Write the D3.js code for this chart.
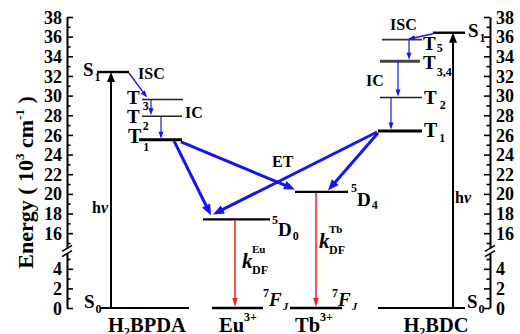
<!DOCTYPE html>
<html>
<head>
<meta charset="utf-8">
<script src="https://cdn.jsdelivr.net/npm/d3@7"></script>
<style>
  body { margin: 0; background: #fff; }
  svg text { font-family: "Liberation Serif", "Times New Roman", serif; font-weight: bold; fill: #000; }
</style>
</head>
<body>
<svg id="chart" width="520" height="334"></svg>
<script>
// Energy levels, in 10^3 cm^-1
const bpdaStates = ["S0", "S1", "T3", "T2", "T1"];
const bpdaEnergy = [0, 32.4, 29.6, 27.9, 25.5];
const bdcStates = ["S0", "S1", "T5", "T3,4", "T2", "T1"];
const bdcEnergy = [0, 36.4, 35.7, 33.5, 29.8, 26.4];
const ionNames = ["Eu3+", "Tb3+"];
const ionEmitting = [17.4, 20.2];   // Eu 5D0, Tb 5D4
const ionGround = [0, 0];           // 7FJ
const majorTicks = [0, 2, 4, 16, 18, 20, 22, 24, 26, 28, 30, 32, 34, 36, 38];
const minorTicks = [1, 3, 5, 15, 17, 19, 21, 23, 25, 27, 29, 31, 33, 35, 37];
const tickLabels = ["0", "2", "4", "16", "18", "20", "22", "24", "26", "28", "30", "32", "34", "36", "38"];

const svg = d3.select("#chart");
const BLUE = "#1414f0", RED = "#ff1a1a";

// broken energy axis: 0–5 below the break, 15–38 above it
const y = d3.scaleLinear().domain([0, 5, 15, 38]).range([308, 259, 243, 17]);
const bpda = s => y(bpdaEnergy[bpdaStates.indexOf(s)]);
const bdc = s => y(bdcEnergy[bdcStates.indexOf(s)]);

const xAxisL = 67, xAxisR = 490;

function styleAxis(g) {
  g.select(".domain").attr("stroke-width", 2);
  g.selectAll(".tick line").attr("stroke-width", 1.6);
  g.selectAll(".tick text")
    .attr("font-family", "Liberation Serif, serif")
    .attr("font-weight", "bold")
    .attr("font-size", 18)
    .attr("dy", "0.34em");
}
const labelFmt = d => tickLabels[majorTicks.indexOf(d)];

// left axis
svg.append("g").attr("transform", `translate(${xAxisL},0)`)
  .call(d3.axisLeft(y).tickValues(majorTicks).tickFormat(labelFmt)
    .tickSize(-6).tickSizeOuter(0).tickPadding(5)).call(styleAxis);
svg.append("g").attr("transform", `translate(${xAxisL},0)`)
  .call(d3.axisLeft(y).tickValues(minorTicks).tickFormat("")
    .tickSize(-3.5).tickSizeOuter(0)).call(styleAxis)
  .select(".domain").remove();

// right axis
svg.append("g").attr("transform", `translate(${xAxisR},0)`)
  .call(d3.axisRight(y).tickValues(majorTicks).tickFormat(labelFmt)
    .tickSize(-6).tickSizeOuter(0).tickPadding(6)).call(styleAxis);
svg.append("g").attr("transform", `translate(${xAxisR},0)`)
  .call(d3.axisRight(y).tickValues(minorTicks).tickFormat("")
    .tickSize(-3.5).tickSizeOuter(0)).call(styleAxis)
  .select(".domain").remove();

// axis break marks
const yBreak = (y(5) + y(15)) / 2;
[xAxisL, xAxisR].forEach(x => {
  svg.append("rect").attr("x", x - 3).attr("y", yBreak - 2.5).attr("width", 6).attr("height", 5).attr("fill", "#fff");
  [-2.6, 2.6].forEach(o => {
    svg.append("line").attr("x1", x - 5).attr("y1", yBreak + o + 3)
      .attr("x2", x + 5).attr("y2", yBreak + o - 3)
      .attr("stroke", "#000").attr("stroke-width", 1.6);
  });
});

// axis title
const title = svg.append("text")
  .attr("transform", `translate(33,${(y(0) + y(38)) / 2 + 20}) rotate(-90)`)
  .attr("text-anchor", "middle").attr("font-size", 22);
title.append("tspan").text("Energy ( 10");
title.append("tspan").attr("font-size", 13).attr("dy", -9).text("3");
title.append("tspan").attr("dy", 9).text(" cm");
title.append("tspan").attr("font-size", 13).attr("dy", -9).text("-1");
title.append("tspan").attr("dy", 9).text(" )");

// level lines
function level(x1, x2, yy, w = 2, color = "#000") {
  svg.append("line").attr("x1", x1).attr("x2", x2).attr("y1", yy).attr("y2", yy)
    .attr("stroke", color).attr("stroke-width", w);
}
level(100, 189, bpda("S0"), 2.2);
level(97, 129, bpda("S1"), 2.4);
level(142, 183, bpda("T3"), 1.5, "#222");
level(142, 182, bpda("T2"), 1.5, "#222");
level(139, 182, bpda("T1"), 3);

level(212, 263, y(ionGround[0]), 2.4);
level(203, 270, y(ionEmitting[0]), 2.4);
level(290, 342, y(ionGround[1]), 2.4);
level(295, 348, y(ionEmitting[1]), 2.4);

level(378, 465, bdc("S0"), 2.2);
level(433, 465, bdc("S1"), 2.4);
level(382, 422, bdc("T5"), 1.6, "#333");
level(380, 420, bdc("T3,4"), 3, "#444");
level(380, 422, bdc("T2"), 1.5, "#222");
level(378, 422, bdc("T1"), 3);

// arrows with triangular heads
function arrow(x1, y1, x2, y2, color, w, hl, hw) {
  const dx = x2 - x1, dy = y2 - y1, len = Math.hypot(dx, dy);
  const ux = dx / len, uy = dy / len;
  const bx = x2 - ux * hl, by = y2 - uy * hl;
  svg.append("line").attr("x1", x1).attr("y1", y1)
    .attr("x2", x2 - ux * hl * 0.6).attr("y2", y2 - uy * hl * 0.6)
    .attr("stroke", color).attr("stroke-width", w);
  svg.append("path")
    .attr("d", `M${x2},${y2}L${bx - uy * hw / 2},${by + ux * hw / 2}L${bx + uy * hw / 2},${by - ux * hw / 2}Z`)
    .attr("fill", color);
}

// absorption
arrow(111, bpda("S0"), 111, bpda("S1"), "#000", 2, 10, 8);
arrow(453, bdc("S0"), 453, bdc("S1"), "#000", 2, 10, 8);

// ISC and IC in H2BPDA
arrow(129, bpda("S1") + 1, 147, bpda("T3") - 2, BLUE, 1.4, 7, 5);
arrow(151, bpda("T3"), 151, bpda("T2") - 1, BLUE, 1.2, 7, 5);
arrow(161, bpda("T2"), 161, bpda("T1") - 1, BLUE, 1.2, 7, 5);

// ISC and IC in H2BDC
arrow(433, bdc("S1") + 1, 408, bdc("T5") - 0.5, BLUE, 1.4, 7, 5);
arrow(409, bdc("T5"), 409, bdc("T3,4") - 1.5, BLUE, 1.2, 7, 5);
arrow(398, bdc("T3,4"), 398, bdc("T2") - 1, BLUE, 1.2, 7, 5);
arrow(391, bdc("T2"), 391, bdc("T1") - 1.5, BLUE, 1.2, 7, 5);

// energy transfer to the lanthanide ions
arrow(174, bpda("T1") + 1, 211, y(ionEmitting[0]) - 4, BLUE, 3, 11, 9);
arrow(181, bpda("T1") + 2, 295, y(ionEmitting[1]) - 2.5, BLUE, 3, 11, 9);
arrow(377, bdc("T1") + 1, 213, y(ionEmitting[0]) - 5, BLUE, 3, 11, 9);
arrow(378, bdc("T1") + 2, 328, y(ionEmitting[1]) - 1.5, BLUE, 3, 11, 9);

// lanthanide emission
arrow(235, y(ionEmitting[0]) + 1, 235, y(ionGround[0]) - 1, RED, 1.5, 9, 5.5);
arrow(316, y(ionEmitting[1]) + 1, 316, y(ionGround[1]) - 1, RED, 1.5, 9, 5.5);

// labels
function label(x, yy, main, sub, o = {}) {
  const t = svg.append("text").attr("x", x).attr("y", yy).attr("font-size", o.size || 19);
  if (o.pre) t.append("tspan").attr("font-size", o.preSize || 12).attr("dy", o.preDy || -7).text(o.pre);
  const m = t.append("tspan").text(main);
  if (o.pre) m.attr("dy", -(o.preDy || -7));
  if (o.italic) m.attr("font-style", "italic");
  if (sub) {
    const s = t.append("tspan").attr("font-size", o.subSize || 12)
      .attr("dx", o.subDx || 1).attr("dy", o.subDy || 6).text(sub);
    if (o.subItalic) s.attr("font-style", "italic");
  }
  return t;
}

label(83, bpda("S1") + 4, "S", "1", { subDy: 5 });
label(84, bpda("S0"), "S", "0", { subDy: 5 });
label(127, bpda("T3") + 4, "T", "3", { subDx: 3, subDy: 6 });
label(127, bpda("T2") + 7, "T", "2", { subDx: 3, subDy: 7 });
label(128, bpda("T1") + 3, "T", "1", { size: 20, subDx: 2, subDy: 8 });

label(468, bdc("S1") + 4, "S", "1", { subDy: 5 });
label(467, bdc("S0"), "S", "0", { subDy: 5 });
label(423, bdc("T5") + 10, "T", "5", { subDx: 1, subDy: 2 });
label(423, bdc("T3,4") + 8, "T", "3,4", { subDx: 1, subDy: 7 });
label(424, bdc("T2") + 6, "T", "2", { subDx: 3, subDy: 5 });
label(424, bdc("T1") + 6, "T", "1", { size: 20, subDx: 2, subDy: 5 });

label(272, y(ionEmitting[0]) + 17, "D", "0", { pre: "5", preDy: -12, subDy: 4 });
label(351, y(ionEmitting[1]) + 14, "D", "4", { pre: "5", preDy: -14, subDy: 3 });
label(263, 306, "F", "J", { pre: "7", preDy: -9, italic: true, subItalic: true, subDy: 4, subSize: 11 });
label(332, 306, "F", "J", { pre: "7", preDy: -9, italic: true, subItalic: true, subDy: 4, subSize: 11 });

// decay constants
function kdf(x, yy, ion) {
  svg.append("text").attr("x", x).attr("y", yy).attr("font-size", 21)
    .attr("font-style", "italic").text("k");
  svg.append("text").attr("x", x + 10).attr("y", yy - 15).attr("font-size", 11).text(ion);
  svg.append("text").attr("x", x + 10).attr("y", yy + 6).attr("font-size", 12).text("DF");
}
kdf(242, 268, "Eu");
kdf(319, 248, "Tb");

// process labels
svg.append("text").attr("x", 138).attr("y", 79).attr("font-size", 16).text("ISC");
svg.append("text").attr("x", 185).attr("y", 118).attr("font-size", 16).text("IC");
svg.append("text").attr("x", 390).attr("y", 30).attr("font-size", 16).text("ISC");
svg.append("text").attr("x", 366).attr("y", 86).attr("font-size", 16).text("IC");
svg.append("text").attr("x", 272).attr("y", 167).attr("font-size", 16).text("ET");
[[92, 213], [455, 203]].forEach(([x, yy]) => {
  const t = svg.append("text").attr("x", x).attr("y", yy).attr("font-size", 16);
  t.append("tspan").text("h");
  t.append("tspan").attr("font-style", "italic").text("ν");
});

// column names
function colName(cx, main, sub, rest, sup) {
  const t = svg.append("text").attr("x", cx).attr("y", 332).attr("font-size", 20.5).attr("text-anchor", "middle");
  t.append("tspan").text(main);
  if (sub) { t.append("tspan").attr("font-size", 12).attr("dy", 4).text(sub); t.append("tspan").attr("dy", -4).text(rest); }
  if (sup) t.append("tspan").attr("font-size", 12).attr("dy", -11).text(sup);
}
colName(147, "H", "2", "BPDA");
colName(238, "Eu", null, null, "3+");
colName(314, "Tb", null, null, "3+");
colName(436, "H", "2", "BDC");
</script>
</body>
</html>
